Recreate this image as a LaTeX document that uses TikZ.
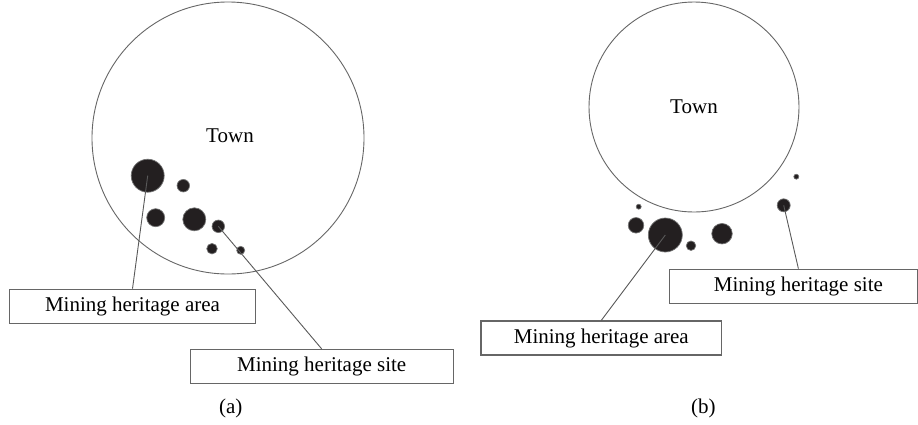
\documentclass[tikz,border=0pt]{standalone}
\usepackage{fontspec}
\setmainfont{Liberation Serif}
\begin{document}
\begin{tikzpicture}[x=1pt,y=-1pt,
  town/.style={draw=black!60,line width=0.9pt},
  dot/.style={circle,fill=dotblack,draw=black!55,line width=0.7pt,inner sep=0pt,minimum size=#1},
  lbox/.style={draw=black!60,line width=1.2pt,minimum height=34pt,inner sep=0pt,font=\fontsize{21pt}{24pt}\selectfont},
  leader/.style={draw=black!65,line width=0.9pt},
  txt/.style={font=\fontsize{21pt}{24pt}\selectfont,inner sep=0pt}]
\definecolor{dotblack}{HTML}{231F20}
\useasboundingbox (0,0) rectangle (918,424);
% ---------- panel (a)
\node[town,circle,minimum size=272pt,inner sep=0pt] (townA) at (228,138) {};
\node[txt] (townAt) at (230,136) {Town};
\node[dot=33pt] (a1) at (147.7,175.7) {};
\node[dot=12.5pt] (a2) at (183.3,185.7) {};
\node[dot=18pt] (a3) at (155.7,217.7) {};
\node[dot=23pt] (a4) at (194.3,219.3) {};
\node[dot=12.5pt] (a5) at (218.3,226.3) {};
\node[dot=10.5pt] (a6) at (212,248.7) {};
\node[dot=8pt] (a7) at (240.7,250.3) {};
\node[lbox,minimum width=246pt] (areaA) at (132.5,306.3) {Mining heritage area};
\node[lbox,minimum width=263pt] (siteA) at (321.7,366.5) {Mining heritage site};
\draw[leader] (a1.center) -- (areaA.north);
\draw[leader] (a5.center) -- (siteA.north);
\node[txt] (capA) at (230.7,408) {(a)};
% ---------- panel (b)
\node[town,circle,minimum size=210pt,inner sep=0pt] (townB) at (694,107) {};
\node[txt] (townBt) at (694,107) {Town};
\node[dot=5pt] (b1) at (638.7,206.7) {};
\node[dot=15.5pt] (b2) at (636,225.3) {};
\node[dot=34pt] (b3) at (665.3,235) {};
\node[dot=9.5pt] (b4) at (691,245.7) {};
\node[dot=20.5pt] (b5) at (722,233.7) {};
\node[dot=5pt] (b6) at (796.3,176.7) {};
\node[dot=13pt] (b7) at (783.7,205.3) {};
\node[lbox,minimum width=240.7pt] (areaB) at (601.3,338) {Mining heritage area};
\node[lbox,minimum width=248pt] (siteB) at (793.4,286.2) {\hspace*{10pt}Mining heritage site};
\draw[leader] (b3.center) -- (areaB.north);
\draw[leader] (b7.center) -- ([xshift=5pt]siteB.north);
\node[txt] (capB) at (703.3,408) {(b)};
\end{tikzpicture}
\end{document}
